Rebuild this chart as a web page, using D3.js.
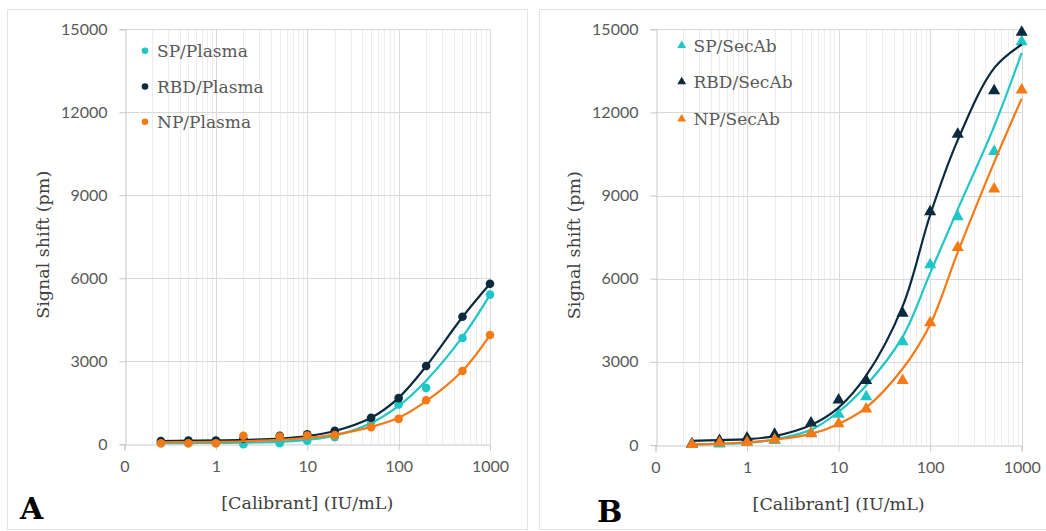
<!DOCTYPE html>
<html>
<head>
<meta charset="utf-8">
<script src="https://cdn.jsdelivr.net/npm/d3@7"></script>
<style>
  html, body { margin: 0; padding: 0; background: #ffffff; }
  svg { display: block; }
</style>
</head>
<body>
<svg id="chart" width="1046" height="531"></svg>
<script>
// ---------------- DATA ----------------
const concentrations = [0.25, 0.5, 1, 2, 5, 10, 20, 50, 100, 200, 500, 1000];

// Panel A (Plasma) measured points
const spPlasma  = [40, 40, 40, 0, 40, 130, 260, 820, 1440, 2040, 3840, 5410];
const rbdPlasma = [120, 140, 140, 200, 310, 360, 490, 960, 1670, 2830, 4610, 5800];
const npPlasma  = [40, 40, 40, 310, 280, 320, 330, 620, 920, 1590, 2650, 3950];
// Panel A fitted curves (at the same concentrations)
const spPlasmaFit  = [40, 45, 50, 60, 90, 160, 310, 770, 1390, 2300, 3880, 5400];
const rbdPlasmaFit = [120, 130, 140, 160, 210, 300, 480, 960, 1680, 2820, 4600, 5800];
const npPlasmaFit  = [70, 80, 90, 110, 160, 230, 350, 630, 960, 1560, 2660, 3950];

// Panel B (SecAb) measured points
const spSecAb  = [20, 40, 100, 160, 440, 1110, 1740, 3730, 6500, 8240, 10590, 14550];
const rbdSecAb = [40, 160, 250, 390, 790, 1620, 2330, 4750, 8420, 11210, 12780, 14890];
const npSecAb  = [20, 80, 100, 190, 410, 770, 1300, 2330, 4410, 7130, 9240, 12810];
// Panel B fitted curves
const spSecAbFit  = [20, 40, 80, 200, 550, 1200, 2150, 3900, 6200, 8500, 11500, 14150];
const rbdSecAbFit = [150, 175, 210, 320, 720, 1350, 2500, 5000, 8300, 11000, 13600, 14450];
const npSecAbFit  = [20, 50, 100, 190, 400, 760, 1350, 2750, 4350, 6950, 10200, 12500];

const seriesNamesA = ["SP/Plasma", "RBD/Plasma", "NP/Plasma"];
const seriesNamesB = ["SP/SecAb", "RBD/SecAb", "NP/SecAb"];
const xTickValues = [0.1, 1, 10, 100, 1000];
const xTickLabels = ["0", "1", "10", "100", "1000"];
const yTickValues = [0, 3000, 6000, 9000, 12000, 15000];
const panelLetters = ["A", "B"];
const xTitle = "[Calibrant] (IU/mL)";
const yTitle = "Signal shift (pm)";

// ---------------- STYLE ----------------
const colors = ["#1fc6c6", "#0c2a3e", "#f47a16"];
const tickFont = "Lato, 'Open Sans', sans-serif";
const serifFont = "'DejaVu Serif', 'Liberation Serif', serif";

const svg = d3.select("#chart");

const panels = [
  {
    letter: panelLetters[0], marker: "circle", names: seriesNamesA,
    pts: [spPlasma, rbdPlasma, npPlasma], fits: [spPlasmaFit, rbdPlasmaFit, npPlasmaFit],
    frame: {x: 7.5, y: 9.5, w: 520, h: 520},
    xr: [124.5, 490], yr: [444.3, 29.3],
    yTitleX: 43, xTitleY: 503, letterPos: [20, 519],
    legend: {mx: 145, tx: 157, ys: [50.7, 86.5, 121.7]}
  },
  {
    letter: panelLetters[1], marker: "triangle", names: seriesNamesB,
    pts: [spSecAb, rbdSecAb, npSecAb], fits: [spSecAbFit, rbdSecAbFit, npSecAbFit],
    frame: {x: 539.5, y: 9.5, w: 520, h: 520},
    xr: [655.5, 1021.7], yr: [445, 29.3],
    yTitleX: 574, xTitleY: 504, letterPos: [597, 522],
    legend: {mx: 681.7, tx: 693.5, ys: [45.5, 81.8, 119]}
  }
];

panels.forEach(p => {
  const g = svg.append("g");
  // panel frame
  g.append("rect")
    .attr("x", p.frame.x).attr("y", p.frame.y)
    .attr("width", p.frame.w).attr("height", p.frame.h)
    .attr("fill", "#ffffff").attr("stroke", "#e3e3e3").attr("stroke-width", 1);

  const x = d3.scaleLog().domain([0.1, 1000]).range(p.xr);
  const y = d3.scaleLinear().domain([0, 15000]).range(p.yr);

  // minor vertical gridlines
  const minor = [];
  [0.1, 1, 10, 100].forEach(dec => { for (let k = 2; k <= 9; k++) minor.push(dec * k); });
  g.append("g").selectAll("line").data(minor).join("line")
    .attr("x1", d => Math.round(x(d)) + 0.5).attr("x2", d => Math.round(x(d)) + 0.5)
    .attr("y1", y(0)).attr("y2", y(15000))
    .attr("stroke", "#ededed").attr("stroke-width", 1);

  // major vertical gridlines
  g.append("g").selectAll("line").data(xTickValues.slice(1)).join("line")
    .attr("x1", d => Math.round(x(d)) + 0.5).attr("x2", d => Math.round(x(d)) + 0.5)
    .attr("y1", y(0)).attr("y2", y(15000))
    .attr("stroke", "#d9d9d9").attr("stroke-width", 1);

  // horizontal gridlines
  g.append("g").selectAll("line").data(yTickValues.slice(1)).join("line")
    .attr("x1", x(0.1)).attr("x2", x(1000))
    .attr("y1", d => Math.round(y(d)) + 0.5).attr("y2", d => Math.round(y(d)) + 0.5)
    .attr("stroke", "#d9d9d9").attr("stroke-width", 1);

  // y axis
  const yAxis = d3.axisLeft(y).tickValues(yTickValues).tickSize(6).tickPadding(12)
    .tickFormat(d3.format("d"));
  const ya = g.append("g").attr("transform", `translate(${Math.round(x(0.1)) + 0.5},0)`).call(yAxis);
  ya.select(".domain").attr("stroke", "#c8c8c8");
  ya.selectAll(".tick line").attr("stroke", "#c8c8c8");
  ya.selectAll(".tick text").attr("fill", "#595959")
    .style("font-family", tickFont).style("font-size", "16px");

  // x axis
  const xAxis = d3.axisBottom(x).tickValues(xTickValues).tickSize(6).tickPadding(10)
    .tickFormat((d, i) => xTickLabels[i]);
  const xa = g.append("g").attr("transform", `translate(0,${Math.round(y(0)) + 0.5})`).call(xAxis);
  xa.select(".domain").attr("stroke", "#c8c8c8");
  xa.selectAll(".tick line").attr("stroke", "#c8c8c8");
  xa.selectAll(".tick text").attr("fill", "#595959")
    .style("font-family", tickFont).style("font-size", "16px");

  // axis titles
  g.append("text")
    .attr("transform", `translate(${p.yTitleX},${(p.yr[0] + p.yr[1]) / 2 + 8}) rotate(-90)`)
    .attr("text-anchor", "middle").attr("dominant-baseline", "central")
    .style("font-family", serifFont).style("font-size", "17.5px").attr("fill", "#404040")
    .text(yTitle);
  g.append("text")
    .attr("x", (p.xr[0] + p.xr[1]) / 2).attr("y", p.xTitleY)
    .attr("text-anchor", "middle").attr("dominant-baseline", "central")
    .style("font-family", serifFont).style("font-size", "17.5px").attr("fill", "#404040")
    .text(xTitle);

  // panel letter
  g.append("text")
    .attr("x", p.letterPos[0]).attr("y", p.letterPos[1])
    .style("font-family", serifFont).style("font-size", "30px").style("font-weight", "bold")
    .attr("fill", "#000000").text(p.letter);

  const tri = d3.symbol().type(d3.symbolTriangle);

  // series
  p.names.forEach((name, si) => {
    const col = colors[si];
    const fitData = concentrations.map((c, i) => ({c, v: p.fits[si][i]}));
    const ptData = concentrations.map((c, i) => ({c, v: p.pts[si][i]}));
    const line = d3.line().x(d => x(d.c)).y(d => y(d.v)).curve(d3.curveCatmullRom.alpha(0.5));
    g.append("path").datum(fitData).attr("d", line)
      .attr("fill", "none").attr("stroke", col).attr("stroke-width", 2.2);
    if (p.marker === "circle") {
      g.append("g").selectAll("circle").data(ptData).join("circle")
        .attr("cx", d => x(d.c)).attr("cy", d => y(d.v)).attr("r", 4.3)
        .attr("fill", col);
    } else {
      g.append("g").selectAll("path").data(ptData).join("path")
        .attr("d", tri.size(64))
        .attr("transform", d => `translate(${x(d.c)},${y(d.v)})`)
        .attr("fill", col);
    }
    // legend
    const ly = p.legend.ys[si];
    if (p.marker === "circle") {
      g.append("circle").attr("cx", p.legend.mx).attr("cy", ly).attr("r", 3.3).attr("fill", col);
    } else {
      g.append("path").attr("d", d3.symbol().type(d3.symbolTriangle).size(34)())
        .attr("transform", `translate(${p.legend.mx},${ly})`).attr("fill", col);
    }
    g.append("text").attr("x", p.legend.tx).attr("y", ly)
      .attr("dominant-baseline", "central")
      .style("font-family", serifFont).style("font-size", "17px").attr("fill", "#595959")
      .text(name);
  });
});
</script>
</body>
</html>
